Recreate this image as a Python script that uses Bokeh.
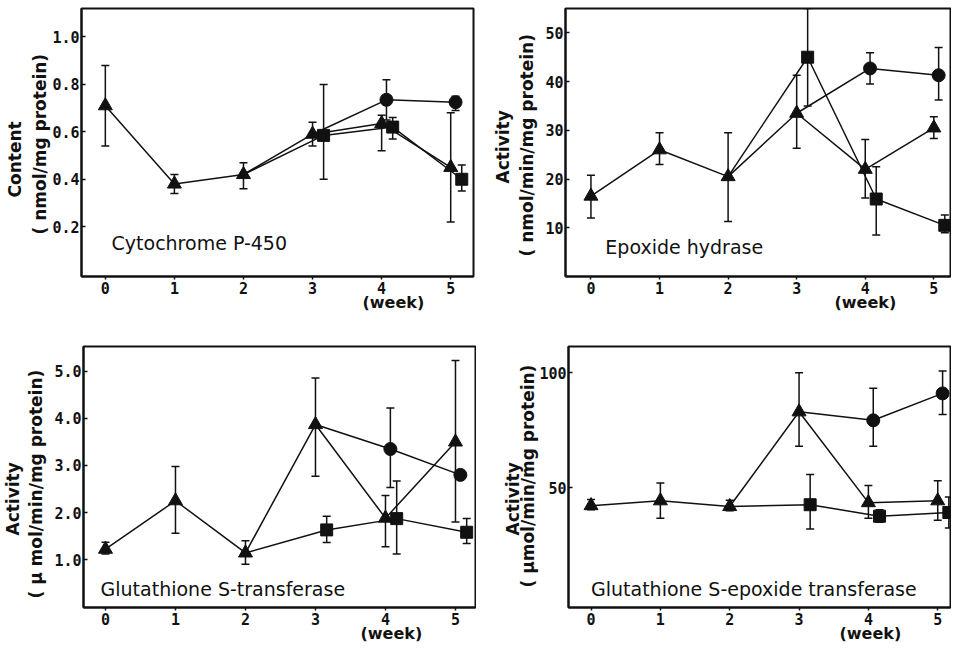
import math
from bokeh.plotting import figure
from bokeh.models import ColumnDataSource, Whisker, TeeHead, Label, FixedTicker, Title
from bokeh.layouts import column, row
from bokeh.embed import file_html
from bokeh.resources import INLINE

# ---------------- data ----------------
WEEKS = [0, 1, 2, 3, 4, 5]
X_TICKS = [0, 1, 2, 3, 4, 5]
X_TICK_LABELS = ["0", "1", "2", "3", "4", "5"]
CIRCLE_WEEKS = [4, 5]
SQUARE_WEEKS = [3, 4, 5]
CIRCLE_BRANCH_WEEK = 3   # circle series starts from the triangle point at this week
SQUARE_BRANCH_WEEK = 2   # square series starts from the triangle point at this week

# Cytochrome P-450 (nmol/mg protein)
P450_TRI = [0.71, 0.38, 0.42, 0.59, 0.635, 0.45]
P450_TRI_LO = [0.54, 0.34, 0.36, 0.54, 0.52, 0.22]
P450_TRI_HI = [0.88, 0.42, 0.47, 0.64, 0.67, 0.68]
P450_CIR = [0.735, 0.725]
P450_CIR_LO = [0.65, 0.69]
P450_CIR_HI = [0.82, 0.75]
P450_SQ = [0.585, 0.62, 0.40]
P450_SQ_LO = [0.40, 0.57, 0.35]
P450_SQ_HI = [0.80, 0.66, 0.46]
P450_YTICKS = [0.2, 0.4, 0.6, 0.8, 1.0]
P450_YLABELS = ["0.2", "0.4", "0.6", "0.8", "1.0"]

# Epoxide hydrase (nmol/min/mg protein)
EH_TRI = [16.5, 26.0, 20.5, 33.5, 22.0, 30.5]
EH_TRI_LO = [12.0, 23.0, 11.3, 26.3, 16.1, 28.3]
EH_TRI_HI = [20.8, 29.5, 29.5, 41.3, 28.1, 32.8]
EH_CIR = [42.7, 41.3]
EH_CIR_LO = [39.5, 36.2]
EH_CIR_HI = [45.9, 47.0]
EH_SQ = [45.0, 15.9, 10.5]
EH_SQ_LO = [35.0, 8.5, 9.0]
EH_SQ_HI = [55.0, 22.5, 12.6]
EH_YTICKS = [10, 20, 30, 40, 50]
EH_YLABELS = ["10", "20", "30", "40", "50"]

# Glutathione S-transferase (umol/min/mg protein)
GST_TRI = [1.22, 2.25, 1.14, 3.87, 1.88, 3.50]
GST_TRI_LO = [1.12, 1.56, 0.90, 2.77, 1.27, 1.80]
GST_TRI_HI = [1.37, 2.98, 1.40, 4.86, 2.36, 5.23]
GST_CIR = [3.35, 2.80]
GST_CIR_LO = [2.53, 2.75]
GST_CIR_HI = [4.22, 2.85]
GST_SQ = [1.63, 1.87, 1.58]
GST_SQ_LO = [1.36, 1.12, 1.34]
GST_SQ_HI = [1.92, 2.67, 1.87]
GST_YTICKS = [1.0, 2.0, 3.0, 4.0, 5.0]
GST_YLABELS = ["1.0", "2.0", "3.0", "4.0", "5.0"]

# Glutathione S-epoxide transferase (umol/min/mg protein)
GSE_TRI = [42.2, 44.3, 41.8, 83.0, 43.5, 44.3]
GSE_TRI_LO = [40.4, 36.7, 40.0, 68.0, 36.7, 35.8]
GSE_TRI_HI = [44.9, 52.0, 44.5, 100.0, 51.0, 53.0]
GSE_CIR = [79.3, 91.0]
GSE_CIR_LO = [68.0, 81.8]
GSE_CIR_HI = [93.2, 100.8]
GSE_SQ = [42.6, 37.6, 39.2]
GSE_SQ_LO = [32.0, 35.0, 32.5]
GSE_SQ_HI = [55.7, 40.4, 46.0]
GSE_YTICKS = [50, 100]
GSE_YLABELS = ["50", "100"]

# ---------------- style ----------------
DODGE_CIR = 0.07
DODGE_SQ = 0.16
INK = "#111111"
SANS = "DejaVu Sans"
MONO = "DejaVu Sans Mono"


def panel(cfg, tri, tri_lo, tri_hi, cir, cir_lo, cir_hi, sq, sq_lo, sq_hi,
          yticks, ylabels, title, ylab1, ylab2):
    p = figure(width=cfg["w"], height=cfg["h"], x_range=cfg["xr"], y_range=cfg["yr"],
               output_backend="svg", toolbar_location=None,
               min_border_left=cfg["b"][0], min_border_right=cfg["b"][1],
               min_border_top=cfg["b"][2], min_border_bottom=cfg["b"][3])
    p.grid.visible = False
    p.outline_line_color = INK
    p.outline_line_width = 2
    p.background_fill_color = "white"
    p.border_fill_color = "white"

    p.xaxis.ticker = FixedTicker(ticks=X_TICKS)
    p.xaxis.major_label_overrides = {t: l for t, l in zip(X_TICKS, X_TICK_LABELS)}
    p.yaxis.ticker = FixedTicker(ticks=yticks)
    p.yaxis.major_label_overrides = {t: l for t, l in zip(yticks, ylabels)}
    for ax in (p.xaxis[0], p.yaxis[0]):
        ax.axis_line_color = INK
        ax.axis_line_width = 2
        ax.major_tick_line_color = INK
        ax.major_tick_line_width = 1.5
        ax.minor_tick_line_color = None
        ax.major_label_text_font = MONO
        ax.major_label_text_font_style = "bold"
        ax.major_label_text_font_size = "15px"
        ax.major_label_text_color = INK
    p.xaxis.major_tick_in = 0
    p.xaxis.major_tick_out = 3
    p.xaxis.major_label_standoff = 2
    p.yaxis.major_tick_in = 4
    p.yaxis.major_tick_out = 0
    p.yaxis.major_label_standoff = 2

    # triangle series (all weeks)
    p.line(WEEKS, tri, line_color=INK, line_width=1.5)
    # circle branch
    ci = WEEKS.index(CIRCLE_BRANCH_WEEK)
    cx = [w + DODGE_CIR for w in CIRCLE_WEEKS]
    p.line([WEEKS[ci]] + cx, [tri[ci]] + cir, line_color=INK, line_width=1.5)
    # square branch
    si = WEEKS.index(SQUARE_BRANCH_WEEK)
    sx = [w + DODGE_SQ for w in SQUARE_WEEKS]
    p.line([WEEKS[si]] + sx, [tri[si]] + sq, line_color=INK, line_width=1.5)

    for xs, lo, hi in ((WEEKS, tri_lo, tri_hi), (cx, cir_lo, cir_hi), (sx, sq_lo, sq_hi)):
        src = ColumnDataSource(dict(x=xs, lo=lo, hi=hi))
        p.add_layout(Whisker(source=src, base="x", lower="lo", upper="hi",
                             dimension="height", line_color=INK, line_width=1.5,
                             upper_head=TeeHead(size=8, line_color=INK, line_width=1.5),
                             lower_head=TeeHead(size=8, line_color=INK, line_width=1.5)))

    p.scatter(WEEKS, tri, marker="triangle", size=14, color=INK)
    p.scatter(cx, cir, marker="circle", size=13, color=INK)
    p.scatter(sx, sq, marker="square", size=12, color=INK)

    # panel name inside the frame
    p.add_layout(Label(x=cfg["title_xy"][0], y=cfg["title_xy"][1], text=title,
                       text_font=SANS, text_font_size="19px", text_color=INK,
                       text_align="left", text_baseline="middle"))
    # two-line y axis label (inner line first, nearest the axis)
    for txt, off, so in ((ylab2, cfg["ylab_off"][1], cfg["ylab_so"][0]),
                         (ylab1, cfg["ylab_off"][0], cfg["ylab_so"][1])):
        p.add_layout(Title(text=txt, align="left", offset=off, standoff=so,
                           text_font=SANS, text_font_style="bold",
                           text_font_size="17px", text_color=INK), "left")
    # x unit label
    p.add_layout(Title(text="(week)", align="left", offset=cfg["week_off"],
                       vertical_align="top", standoff=-8,
                       text_font=SANS, text_font_style="bold",
                       text_font_size="16px", text_color=INK), "below")
    return p


cfg1 = dict(w=476, h=316, b=(78, 3, 8, 40), xr=(-0.345, 5.33), yr=(-0.01, 1.12),
            title_xy=(0.09, 0.13), ylab_off=(79, 42), ylab_so=(0, 5), week_off=281)
cfg2 = dict(w=475, h=316, b=(89, 1, 8, 40), xr=(-0.371, 5.243), yr=(0, 55),
            title_xy=(0.21, 6.0), ylab_off=(93, 20), ylab_so=(12, -8), week_off=269)
cfg3 = dict(w=476, h=326, b=(83, 1, 30, 35), xr=(-0.314, 5.286), yr=(-0.02, 5.53),
            title_xy=(-0.07, 0.37), ylab_off=(72, 9), ylab_so=(12, -10), week_off=277)
cfg4 = dict(w=475, h=326, b=(92, 1, 30, 35), xr=(-0.325, 5.184), yr=(-2.1, 111.4),
            title_xy=(0.0, 5.9), ylab_off=(72, 20), ylab_so=(-2, -12), week_off=271)

p1 = panel(cfg1, P450_TRI, P450_TRI_LO, P450_TRI_HI, P450_CIR, P450_CIR_LO, P450_CIR_HI,
           P450_SQ, P450_SQ_LO, P450_SQ_HI, P450_YTICKS, P450_YLABELS,
           "Cytochrome P-450", "Content", "( nmol/mg protein)")
p2 = panel(cfg2, EH_TRI, EH_TRI_LO, EH_TRI_HI, EH_CIR, EH_CIR_LO, EH_CIR_HI,
           EH_SQ, EH_SQ_LO, EH_SQ_HI, EH_YTICKS, EH_YLABELS,
           "Epoxide hydrase", "Activity", "( nmol/min/mg protein)")
p3 = panel(cfg3, GST_TRI, GST_TRI_LO, GST_TRI_HI, GST_CIR, GST_CIR_LO, GST_CIR_HI,
           GST_SQ, GST_SQ_LO, GST_SQ_HI, GST_YTICKS, GST_YLABELS,
           "Glutathione S-transferase", "Activity", "( \u03bc mol/min/mg protein)")
p4 = panel(cfg4, GSE_TRI, GSE_TRI_LO, GSE_TRI_HI, GSE_CIR, GSE_CIR_LO, GSE_CIR_HI,
           GSE_SQ, GSE_SQ_LO, GSE_SQ_HI, GSE_YTICKS, GSE_YLABELS,
           "Glutathione S-epoxide transferase", "Activity", "( \u03bcmol/min/mg protein)")

layout = column(row(p1, p2), row(p3, p4))
open("out.html", "w").write(file_html(layout, INLINE))
